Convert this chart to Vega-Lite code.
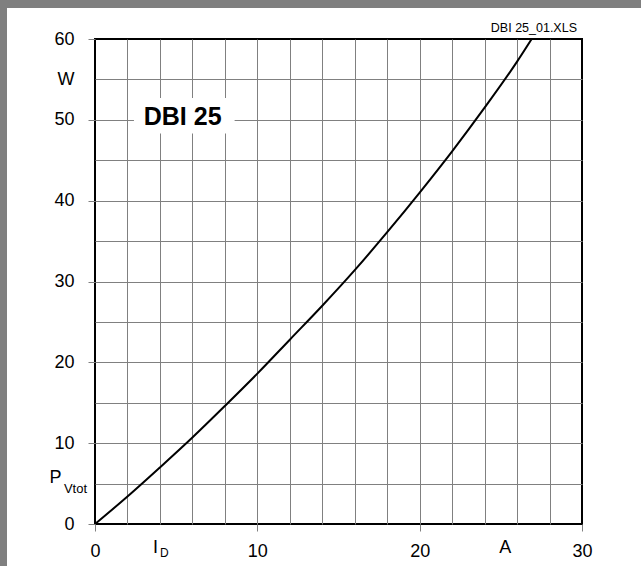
{
  "$schema": "https://vega.github.io/schema/vega-lite/v6.json",
  "background": "white",
  "padding": 0,
  "spacing": 0,
  "bounds": "flush",
  "config": {"view": {"stroke": null}, "font": "Liberation Sans"},
  "vconcat": [
    {
      "width": 641, "height": 8,
      "data": {"values": []},
      "mark": "rect",
      "encoding": {},
      "view": {"fill": "#7f7f7f", "stroke": null}
    },
    {
      "spacing": 0,
      "bounds": "flush",
      "hconcat": [
        {
          "width": 7, "height": 558,
          "data": {"values": []},
          "mark": "rect",
          "encoding": {},
          "view": {"fill": "#7f7f7f", "stroke": null}
        },
        {
          "width": 88, "height": 10,
          "data": {"values": []},
          "mark": "rect",
          "encoding": {},
          "view": {"fill": null, "stroke": null}
        },
        {
          "spacing": 0,
          "bounds": "flush",
          "vconcat": [
            {
              "width": 487, "height": 31,
              "data": {"values": []},
              "mark": "rect",
              "encoding": {},
              "view": {"fill": null, "stroke": null}
            },
            {
              "width": 487,
              "height": 485,
              "view": {"fill": "white", "stroke": "black", "strokeWidth": 2},
              "encoding": {
                "x": {
                  "field": "I", "type": "quantitative",
                  "scale": {"domain": [0, 30], "nice": false, "zero": false},
                  "axis": {
                    "title": null,
                    "values": [0, 2, 4, 6, 8, 10, 12, 14, 16, 18, 20, 22, 24, 25, 26, 28, 30],
                    "labelExpr": "datum.value==4?'I':datum.value==25?'A':(datum.value%10==0?datum.label:'')",
                    "domain": false,
                    "grid": true, "gridColor": "#808080", "gridWidth": 1,
                    "gridOpacity": {"condition": {"test": "datum.value==0||datum.value==30||datum.value==25", "value": 0}, "value": 1},
                    "ticks": true, "tickSize": 7, "tickColor": "#808080", "tickWidth": 1,
                    "tickOpacity": {"condition": {"test": "datum.value%10==0", "value": 1}, "value": 0},
                    "labelFont": "Liberation Sans", "labelFontSize": 18, "labelColor": "black",
                    "labelPadding": {"condition": {"test": "datum.value==4||datum.value==25", "value": 7}, "value": 11},
                    "labelOffset": {"condition": [{"test": "datum.value==4", "value": -5}, {"test": "datum.value==25", "value": 4}], "value": 0},
                    "labelOverlap": false, "labelFlush": false, "labelBound": false
                  }
                },
                "y": {
                  "field": "P", "type": "quantitative",
                  "scale": {"domain": [0, 60], "nice": false, "zero": false},
                  "axis": {
                    "title": null,
                    "values": [0, 5, 10, 15, 20, 25, 30, 35, 40, 45, 50, 55, 60],
                    "labelExpr": "datum.value==55?'W':datum.value==5?'P':(datum.value%10==0?datum.label:'')",
                    "domain": false,
                    "grid": true, "gridColor": "#808080", "gridWidth": 1,
                    "gridOpacity": {"condition": {"test": "datum.value==0||datum.value==60", "value": 0}, "value": 1},
                    "ticks": true, "tickSize": 7, "tickColor": "#808080", "tickWidth": 1,
                    "tickOpacity": {"condition": {"test": "datum.value%10==0", "value": 1}, "value": 0},
                    "labelFont": "Liberation Sans", "labelFontSize": 18, "labelColor": "black",
                    "labelPadding": {"condition": {"test": "datum.value==5", "value": 27}, "value": 14},
                    "labelOffset": {"condition": {"test": "datum.value==5", "value": -6}, "value": 0},
                    "labelOverlap": false, "labelFlush": false, "labelBound": false
                  }
                }
              },
              "layer": [
                {
                  "data": {"values": [{"I": 2.4, "I2": 8.6, "P": 48.3, "P2": 52.7}]},
                  "mark": {"type": "rect", "fill": "white", "stroke": null},
                  "encoding": {
                    "x2": {"field": "I2"},
                    "y2": {"field": "P2"}
                  }
                },
                {
                  "data": {"values": [{"I": 5.4, "P": 50.3, "t": "DBI 25"}]},
                  "mark": {"type": "text", "font": "Liberation Sans", "fontSize": 25, "fontWeight": "bold", "align": "center", "baseline": "middle", "color": "black"},
                  "encoding": {"text": {"field": "t"}}
                },
                {
                  "data": {"values": [
                    {"I": 0, "P": 0}, {"I": 2, "P": 3.4}, {"I": 4, "P": 7.0}, {"I": 6, "P": 10.7},
                    {"I": 8, "P": 14.6}, {"I": 10, "P": 18.6}, {"I": 12, "P": 22.8}, {"I": 14, "P": 27.0},
                    {"I": 16, "P": 31.4}, {"I": 18, "P": 36.1}, {"I": 20, "P": 41.0}, {"I": 22, "P": 46.1},
                    {"I": 24, "P": 51.5}, {"I": 26, "P": 57.2}, {"I": 26.9, "P": 60}
                  ]},
                  "mark": {"type": "line", "color": "black", "strokeWidth": 2, "clip": true, "interpolate": "monotone"},
                  "encoding": {}
                },
                {
                  "data": {"values": [{"I": 30, "P": 60, "t": "DBI 25_01.XLS"}]},
                  "mark": {"type": "text", "font": "Liberation Sans", "fontSize": 12.5, "align": "right", "baseline": "alphabetic", "dx": -5, "dy": -7, "color": "black"},
                  "encoding": {"text": {"field": "t"}}
                },
                {
                  "data": {"values": [{"I": 0, "P": 5, "t": "Vtot"}]},
                  "mark": {"type": "text", "font": "Liberation Sans", "fontSize": 13, "align": "right", "baseline": "alphabetic", "dx": -8, "dy": 9, "color": "black"},
                  "encoding": {"text": {"field": "t"}}
                },
                {
                  "data": {"values": [{"I": 4, "P": 0, "t": "D"}]},
                  "mark": {"type": "text", "font": "Liberation Sans", "fontSize": 12, "align": "left", "baseline": "alphabetic", "dx": 0, "dy": 33, "color": "black"},
                  "encoding": {"text": {"field": "t"}}
                }
              ]
            }
          ]
        }
      ]
    }
  ]
}
